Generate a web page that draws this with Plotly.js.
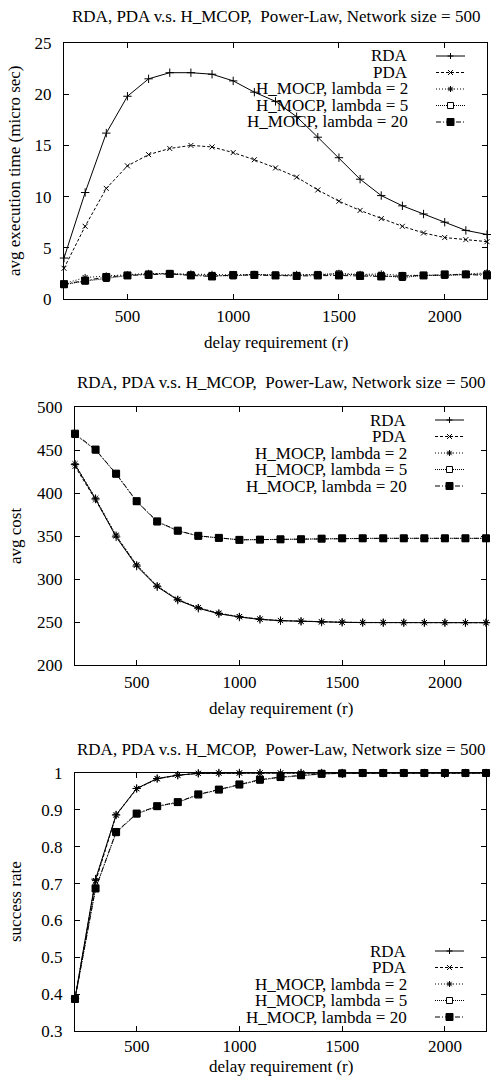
<!DOCTYPE html>
<html>
<head>
<meta charset="utf-8">
<script src="https://cdn.plot.ly/plotly-3.0.1.min.js"></script>
<style>html,body{margin:0;padding:0;background:#fff;}#chart{width:491px;height:1084px;}</style>
</head>
<body>
<div id="chart"></div>
<script>
// ---------- data ----------
const delayReq = [200,300,400,500,600,700,800,900,1000,1100,1200,1300,1400,1500,1600,1700,1800,1900,2000,2100,2200];
const seriesNames = ['RDA','PDA','H_MOCP, lambda = 2','H_MOCP, lambda = 5','H_MOCP, lambda = 20'];

const rdaTime = [4.0,10.4,16.2,19.8,21.5,22.1,22.1,21.95,21.3,20.2,19.3,17.8,15.8,13.8,11.7,10.1,9.1,8.3,7.5,6.7,6.3];
const pdaTime = [3.0,7.1,10.8,13.0,14.1,14.7,15.0,14.85,14.3,13.6,12.8,11.9,10.65,9.55,8.65,7.85,7.1,6.45,6.0,5.8,5.6];
const h2Time  = [1.5,2.1,2.25,2.35,2.5,2.45,2.45,2.4,2.35,2.4,2.3,2.4,2.35,2.5,2.4,2.45,2.3,2.3,2.35,2.45,2.55];
const h5Time  = [1.4,1.75,2.0,2.3,2.45,2.5,2.35,2.3,2.25,2.4,2.35,2.3,2.4,2.45,2.35,2.3,2.1,2.3,2.3,2.4,2.45];
const h20Time = [1.45,1.8,2.15,2.3,2.35,2.45,2.3,2.2,2.35,2.35,2.3,2.25,2.3,2.3,2.25,2.2,2.25,2.3,2.4,2.4,2.3];

const rdaCost = [433,393,349,315,291,275.5,266,259.6,255.8,253,251.5,250.7,250,249.6,249.3,249.2,249.2,249.2,249.2,249.2,249.2];
const pdaCost = [431,392,350,316,291.5,276,266.5,260,256,253.2,251.6,250.8,250.1,249.7,249.4,249.3,249.3,249.2,249.2,249.2,249.2];
const h2Cost  = [434,394,351,316.5,292,276.3,266.8,260.3,256.3,253.5,251.8,250.9,250.2,249.8,249.5,249.4,249.3,249.3,249.3,249.3,249.3];
const h5Cost  = [468,450,422,390,366.5,356,350,347.7,345.6,345.8,346.2,346.2,347,347.2,347.3,347.3,347.3,347.3,347.3,347.3,347.3];
const h20Cost = [469,450.5,422.5,390.5,367,356.2,350.2,347.8,345.5,345.8,346.1,346.2,346.9,347.3,347.3,347.3,347.3,347.3,347.3,347.3,347.3];

const rdaSucc = [0.388,0.712,0.886,0.958,0.985,0.994,0.999,1,1,1,1,1,1,1,1,1,1,1,1,1,1];
const pdaSucc = [0.387,0.705,0.885,0.957,0.984,0.994,0.999,1,1,1,1,1,1,1,1,1,1,1,1,1,1];
const h2Succ  = [0.388,0.708,0.887,0.958,0.985,0.994,0.999,1,1,1,1,1,1,1,1,1,1,1,1,1,1];
const h5Succ  = [0.386,0.686,0.838,0.889,0.909,0.92,0.941,0.955,0.968,0.981,0.988,0.993,0.997,0.999,1,1,1,1,1,1,1];
const h20Succ = [0.387,0.687,0.84,0.89,0.91,0.921,0.942,0.955,0.969,0.982,0.989,0.994,0.998,0.999,1,1,1,1,1,1,1];

const chartTitle = 'RDA, PDA v.s. H_MCOP,\u00a0 Power-Law, Network size = 500';
const xTitle = 'delay requirement (r)';
const yTitles = ['avg execution time (micro sec)','avg cost','success rate'];
const xTickVals = [500,1000,1500,2000];

// ---------- styles ----------
const FONT = 'Liberation Serif, Times New Roman, serif';
const styles = [
  {dash:'solid',           symbol:'cross-thin-open', size:6, glyph:'M-3,0L3,0M0,-3L0,3', fill:'rgba(0,0,0,0)'},
  {dash:'3px,2px',         symbol:'x-thin-open',     size:5, glyph:'M-2.5,-2.5L2.5,2.5M-2.5,2.5L2.5,-2.5', fill:'rgba(0,0,0,0)'},
  {dash:'1px,2px',         symbol:'asterisk-open',   size:6, glyph:'M-3,0L3,0M0,-3L0,3M-2.2,-2.2L2.2,2.2M-2.2,2.2L2.2,-2.2', fill:'rgba(0,0,0,0)'},
  {dash:'1px,1px',         symbol:'square-open',     size:6, glyph:'M-3,-3L3,-3L3,3L-3,3Z', fill:'#fff'},
  {dash:'5px,2px,1px,2px', symbol:'square',          size:7, glyph:'M-3.5,-3.5L3.5,-3.5L3.5,3.5L-3.5,3.5Z', fill:'#000'}
];

const panels = [
  {ys:[rdaTime,pdaTime,h2Time,h5Time,h20Time], xa:'x',  ya:'y',  legendTop:true},
  {ys:[rdaCost,pdaCost,h2Cost,h5Cost,h20Cost], xa:'x2', ya:'y2', legendTop:true},
  {ys:[rdaSucc,pdaSucc,h2Succ,h5Succ,h20Succ], xa:'x3', ya:'y3', legendTop:false}
];

const traces = [];
panels.forEach(p => {
  p.ys.forEach((y, i) => {
    const s = styles[i];
    traces.push({
      type:'scatter', mode:'lines+markers', x:delayReq, y:y,
      xaxis:p.xa, yaxis:p.ya, name:seriesNames[i], showlegend:false,
      cliponaxis:false,
      line:{color:'#000', width:1, dash:s.dash},
      marker:{symbol:s.symbol, size:s.size, color:'#000', line:{color:'#000', width:1}}
    });
  });
});

// ---------- layout ----------
const W = 491, H = 1084;
function xdom(l, r){ return [l/W, r/W]; }
function ydom(t, b){ return [1 - b/H, 1 - t/H]; }

function xaxisDef(dom, anchor, standoff){
  return {domain:dom, anchor:anchor, range:[200,2200], tickvals:xTickVals, ticks:'inside', ticklen:5,
    tickcolor:'#000', showline:true, linecolor:'#000', linewidth:1, mirror:'allticks',
    showgrid:false, zeroline:false, ticklabelstandoff:standoff, automargin:false,
    tickfont:{family:FONT, size:17, color:'#000'}};
}
function yaxisDef(dom, anchor, range, dtick){
  return {domain:dom, anchor:anchor, range:range, dtick:dtick, tick0:range[0], ticks:'inside', ticklen:5,
    tickcolor:'#000', showline:true, linecolor:'#000', linewidth:1, mirror:'allticks',
    showgrid:false, zeroline:false, ticklabelstandoff:8, automargin:false,
    tickfont:{family:FONT, size:17, color:'#000'}};
}

const layout = {
  width:W, height:H, autosize:false,
  margin:{l:0, r:0, t:0, b:0, pad:0},
  paper_bgcolor:'#fff', plot_bgcolor:'#fff',
  font:{family:FONT, size:17, color:'#000'},
  showlegend:false,
  xaxis:  xaxisDef(xdom(64,487), 'y', 2),
  yaxis:  yaxisDef(ydom(43,299), 'x', [0,25], 5),
  xaxis2: xaxisDef(xdom(75,486), 'y2', 2),
  yaxis2: yaxisDef(ydom(407,665), 'x2', [200,500], 50),
  xaxis3: xaxisDef(xdom(75,486), 'y3', 0),
  yaxis3: yaxisDef(ydom(773,1031), 'x3', [0.3,1], 0.1),
  annotations:[], shapes:[]
};

const titleShift = [26, 25, 23];
const xTitleShift = [-44, -43, -35];
panels.forEach((p, pi) => {
  const xd = p.xa + ' domain', yd = p.ya + ' domain';
  layout.annotations.push({xref:xd, yref:yd, x:0.5, y:1, yshift:titleShift[pi], xanchor:'center', yanchor:'middle',
    text:chartTitle, showarrow:false, font:{family:FONT, size:17, color:'#000'}});
  layout.annotations.push({xref:xd, yref:yd, x:0.5, y:0, yshift:xTitleShift[pi], xanchor:'center', yanchor:'middle',
    text:xTitle, showarrow:false, borderpad:0, font:{family:FONT, size:17, color:'#000'}});
  layout.annotations.push({xref:'paper', yref:yd, x:15/W, y:0.5, xanchor:'center', yanchor:'middle', textangle:-90,
    text:yTitles[pi], showarrow:false, font:{family:FONT, size:17, color:'#000'}});
  // manual legend: text on the left, sample on the right
  seriesNames.forEach((nm, k) => {
    const anchorY = p.legendTop ? 1 : 0;
    const off = p.legendTop ? (-13 - 16.5*k) : (14 + 16.5*(4-k));
    layout.annotations.push({xref:xd, yref:yd, x:1, y:anchorY, xshift:-78, yshift:off, xanchor:'right', yanchor:'middle',
      text:nm, showarrow:false, borderpad:0, font:{family:FONT, size:17, color:'#000'}});
    const s = styles[k];
    layout.shapes.push({type:'path', xref:xd, yref:yd, xsizemode:'pixel', ysizemode:'pixel', xanchor:1, yanchor:anchorY,
      path:`M-51,${off}L-22,${off}`, line:{color:'#000', width:1, dash:s.dash}});
    const g = s.glyph.replace(/(-?\d+(?:\.\d+)?),(-?\d+(?:\.\d+)?)/g, (m, a, b) => `${(+a - 36.5)},${(+b + off)}`);
    layout.shapes.push({type:'path', xref:xd, yref:yd, xsizemode:'pixel', ysizemode:'pixel', xanchor:1, yanchor:anchorY,
      path:g, fillcolor:s.fill, line:{color:'#000', width:1}});
  });
});

Plotly.newPlot('chart', traces, layout, {displayModeBar:false, staticPlot:true});
</script>
</body>
</html>
